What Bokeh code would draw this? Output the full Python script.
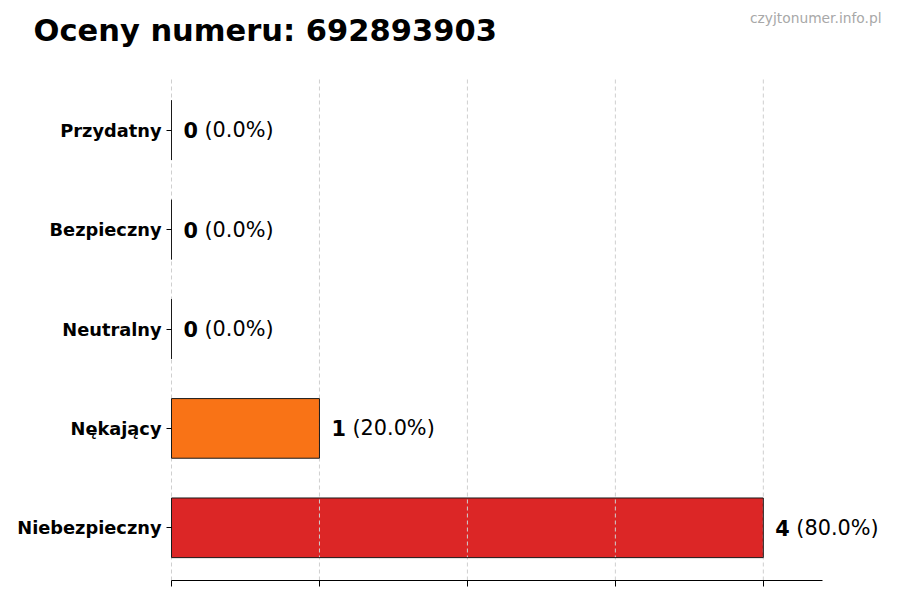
from bokeh.plotting import figure
from bokeh.models import Range1d, FixedTicker, ColumnDataSource
from bokeh.core.properties import value
from bokeh.embed import file_html
from bokeh.resources import INLINE

title_text = "Oceny numeru: 692893903"
watermark = "czyjtonumer.info.pl"
categories = ["Przydatny", "Bezpieczny", "Neutralny", "Nękający", "Niebezpieczny"]
counts = [0, 0, 0, 1, 4]
colors = ["#2ca02c", "#1f77b4", "#9ca3af", "#f97316", "#dc2626"]
x_ticks = [0, 1, 2, 3, 4]

n = len(categories)
ypos = list(range(n))[::-1]          # first category on top
total = sum(counts)
num_labels = [str(c) for c in counts]
pct_labels = ["(%.1f%%)" % (c / total * 100 if total else 0) for c in counts]

FONT = "DejaVu Sans"
# layout (pixels)
W = 884
LEFT = 171          # x of value 0
AXIS_W = 651        # drawn length of the x axis
PLOT_TOP = 77       # top of the category area
PLOT_H = 503        # height of the category area
PAD = 0.03          # category padding (in category units)

x_max = max(counts) * 1.1
XS = AXIS_W / x_max                       # px per unit along x
y_lo = -0.5 - PAD
y_hi = n - 0.5 + PAD
YS = PLOT_H / (y_hi - y_lo)               # px per unit along y
y_top = y_hi + PLOT_TOP / YS              # value at the canvas top

src = ColumnDataSource(dict(y=ypos, val=counts, col=colors,
                            num=num_labels, pct=pct_labels))

p = figure(x_range=Range1d(-LEFT / XS, (W - LEFT) / XS),
           y_range=Range1d(y_lo, y_top),
           frame_width=W, frame_height=PLOT_TOP + PLOT_H,
           min_border_left=0, min_border_right=0,
           min_border_top=0, min_border_bottom=8,
           output_backend="svg", toolbar_location=None)
p.title.visible = False

# bar fills
p.hbar(y="y", left=0, right="val", height=0.6, source=src,
       fill_color="col", line_color=None)

# dashed vertical grid lines (over the fills, limited to the category area)
p.segment(x0=x_ticks, x1=x_ticks, y0=[y_lo] * len(x_ticks), y1=[y_hi] * len(x_ticks),
          line_color="#cfcfcf", line_dash="4 3", line_width=1)

# bar outlines
p.hbar(y="y", left=0, right="val", height=0.6, source=src,
       fill_color=None, line_color="#1a1a1a", line_width=1)

p.text(x="val", y="y", text="num", source=src, x_offset=12,
       text_baseline="middle", text_align="left",
       text_font=value(FONT), text_font_style="bold",
       text_font_size="20.8px", text_color="black")
p.text(x="val", y="y", text="pct", source=src, x_offset=33,
       text_baseline="middle", text_align="left",
       text_font=value(FONT), text_font_size="20.8px", text_color="black")

# title and watermark
p.text(x=[(33 - LEFT) / XS], y=[y_top - 30 / YS], text=[title_text],
       text_font=value(FONT), text_font_style="bold", text_font_size="30.5px",
       text_color="black", text_baseline="alphabetic", text_align="left")
p.text(x=[(881 - LEFT) / XS], y=[y_top - 17 / YS], text=[watermark],
       text_font=value(FONT), text_font_size="13.8px",
       text_color="#a8a8a8", text_baseline="alphabetic", text_align="right")

p.outline_line_color = None
p.background_fill_color = "white"
p.border_fill_color = "white"
p.grid.visible = False

p.xaxis.ticker = FixedTicker(ticks=x_ticks)
p.xaxis.bounds = (0, x_max)
p.xaxis.major_label_text_font_size = "0px"
p.xaxis.major_label_standoff = 0
p.xaxis.axis_line_color = "black"
p.xaxis.major_tick_line_color = "black"
p.xaxis.major_tick_out = 6
p.xaxis.major_tick_in = 0
p.xaxis.minor_tick_line_color = None

p.yaxis.fixed_location = 0
p.yaxis.ticker = FixedTicker(ticks=ypos)
p.yaxis.major_label_overrides = {yv: c for yv, c in zip(ypos, categories)}
p.yaxis.axis_line_color = None
p.yaxis.major_tick_line_color = "black"
p.yaxis.major_tick_out = 5
p.yaxis.major_tick_in = 0
p.yaxis.minor_tick_line_color = None
p.yaxis.major_label_text_font = FONT
p.yaxis.major_label_text_font_style = "bold"
p.yaxis.major_label_text_font_size = "17.8px"
p.yaxis.major_label_text_color = "black"
p.yaxis.major_label_standoff = 5

open("out.html", "w").write(file_html(p, INLINE))
